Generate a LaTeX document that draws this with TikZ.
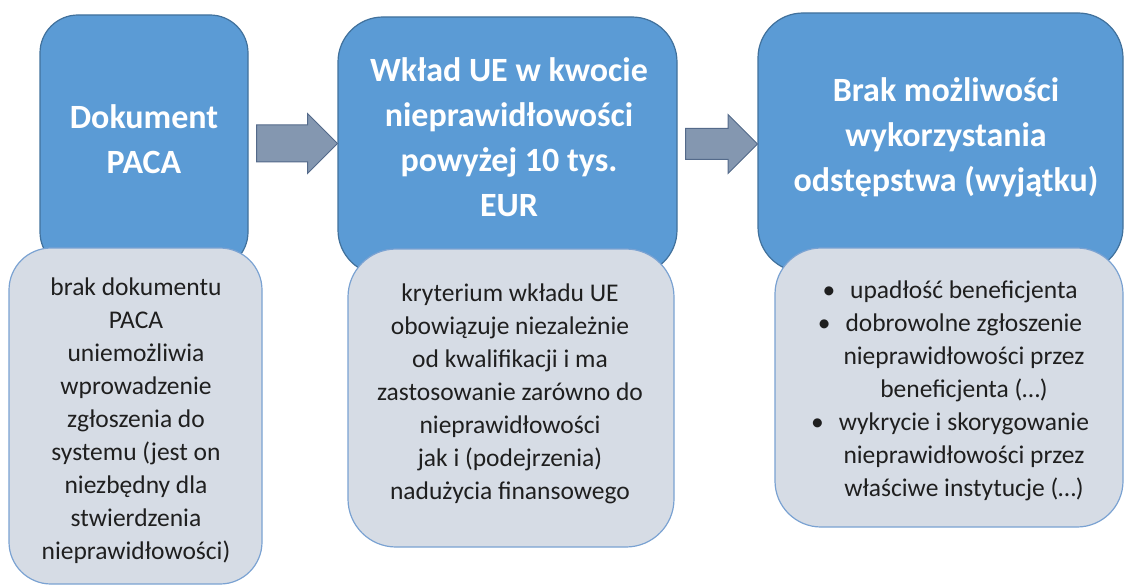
\documentclass[tikz,border=0pt]{standalone}
\usepackage{fontspec}
\setmainfont{Carlito}
\usetikzlibrary{shapes.arrows}

\definecolor{boxblue}{RGB}{91,155,213}
\definecolor{boxblueline}{RGB}{65,113,156}
\definecolor{notegrey}{RGB}{214,220,229}
\definecolor{noteline}{RGB}{122,162,210}
\definecolor{arrowfill}{RGB}{132,151,176}
\definecolor{arrowline}{RGB}{84,106,138}

\tikzset{
  headbox/.style={draw=boxblueline, fill=boxblue, line width=1.2pt, inner sep=0pt},
  notebox/.style={draw=noteline, fill=notegrey, line width=1.2pt, inner sep=0pt},
  headtext/.style={text=white, align=center, font=\fontsize{34}{45}\selectfont\bfseries},
  notetext/.style={text=black!88, align=center, font=\fontsize{25.5}{33}\selectfont},
  flowarrow/.style={single arrow, draw=arrowline, fill=arrowfill, line width=1pt,
    inner xsep=0pt, minimum width=0pt, anchor=tail}
}

\begin{document}
\begin{tikzpicture}[x=1pt, y=-1pt]
  \useasboundingbox (0,0) rectangle (1126,588);

  % Blue header boxes
  \node[headbox, minimum width=208pt, minimum height=255pt, rounded corners=38pt] (paca) at (144,142.5) {};
  \node[headbox, minimum width=339pt, minimum height=258pt, rounded corners=45pt] (wklad) at (507.5,146) {};
  \node[headbox, minimum width=365pt, minimum height=259pt, rounded corners=45pt] (brak) at (940.5,142.5) {};

  % Block arrows between the boxes
  \node[flowarrow, minimum height=81pt, inner ysep=18pt, single arrow head extend=11.5pt] (step1) at (256,143.5) {};
  \node[flowarrow, minimum height=72pt, inner ysep=15pt, single arrow head extend=14pt] (step2) at (685,144) {};

  % Titles
  \node[headtext] (pacaTitle) at (144,139) {Dokument\\PACA};
  \node[headtext] (wkladTitle) at (509,137) {Wkład UE w kwocie\\nieprawidłowości\\powyżej 10 tys.\\EUR};
  \node[headtext] (brakTitle) at (946,137) {Brak możliwości\\wykorzystania\\odstępstwa (wyjątku)};

  % Grey note boxes
  \node[notebox, minimum width=253pt, minimum height=336pt, rounded corners=42pt] (pacaNote) at (135.5,416) {};
  \node[notebox, minimum width=326pt, minimum height=298pt, rounded corners=48pt] (wkladNote) at (511,398) {};
  \node[notebox, minimum width=348pt, minimum height=279pt, rounded corners=46pt] (brakNote) at (949,387.5) {};

  % Note texts
  \node[notetext] (pacaText) at (136,421) {brak dokumentu\\PACA\\uniemożliwia\\wprowadzenie\\zgłoszenia do\\systemu (jest on\\niezbędny dla\\stwierdzenia\\nieprawidłowości)};
  \node[notetext] (wkladText) at (510,394) {kryterium wkładu UE\\obowiązuje niezależnie\\od kwalifikacji i ma\\zastosowanie zarówno do\\nieprawidłowości\\jak i (podejrzenia)\\nadużycia finansowego};
  \node[notetext] (brakText) at (950,391) {\textbullet\hspace{15pt}upadłość beneficjenta\\
    \textbullet\hspace{15pt}dobrowolne zgłoszenie\\
    \hspace{28pt}nieprawidłowości przez\\
    \hspace{28pt}beneficjenta (…)\\
    \textbullet\hspace{15pt}wykrycie i skorygowanie\\
    \hspace{28pt}nieprawidłowości przez\\
    \hspace{28pt}właściwe instytucje (…)};
\end{tikzpicture}
\end{document}
